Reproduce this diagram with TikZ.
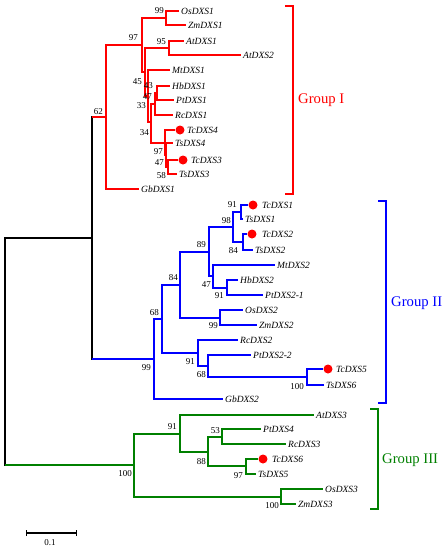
\documentclass[tikz,border=0pt]{standalone}
\usepackage{fontspec}
\setmainfont{Liberation Serif}
\definecolor{tred}{RGB}{255,0,0}
\definecolor{tblue}{RGB}{0,0,255}
\definecolor{tgreen}{RGB}{0,128,0}
\begin{document}
\begin{tikzpicture}[x=1pt,y=-1pt,
  redbr/.style={draw=tred,line width=2pt},
  bluebr/.style={draw=tblue,line width=2pt},
  greenbr/.style={draw=tgreen,line width=2pt},
  blackbr/.style={draw=black,line width=2pt},
  leaf/.style={anchor=west,inner sep=0pt,inner xsep=2.5pt,font=\fontsize{9.5}{11}\selectfont\itshape},
  boot/.style={anchor=east,inner sep=0pt,font=\fontsize{9}{10}\selectfont},
  tcdot/.style={circle,fill=tred,inner sep=0pt,minimum size=9pt},
  grp/.style={anchor=west,inner sep=0pt,font=\fontsize{14.7}{16}\selectfont},
  brk/.style={line width=2pt}]
\useasboundingbox (0,0) rectangle (448,550);

% ---------------- Group I (red) ----------------
\coordinate (n62) at (106,117);
\coordinate (n97) at (142,45);
\coordinate (n99a) at (166,18);
\coordinate (nX) at (145,72);
\coordinate (n95) at (169,48);
\coordinate (nY) at (148,96);
\coordinate (nZ) at (151,122);
\coordinate (nF) at (155,104);
\coordinate (nE) at (157,93);
\coordinate (nC) at (165,143);
\coordinate (nB) at (166,155);
\coordinate (nA) at (168,167);

\node[leaf] (OsDXS1) at (178.5,11) {OsDXS1};
\node[leaf] (ZmDXS1) at (185.5,25) {ZmDXS1};
\node[leaf] (AtDXS1) at (183.5,41) {AtDXS1};
\node[leaf] (AtDXS2) at (240.5,55) {AtDXS2};
\node[leaf] (MtDXS1) at (169.5,70) {MtDXS1};
\node[leaf] (HbDXS1) at (169.5,86) {HbDXS1};
\node[leaf] (PtDXS1) at (173.5,100) {PtDXS1};
\node[leaf] (RcDXS1) at (172.5,115) {RcDXS1};
\node[tcdot] (dTcDXS4) at (180,130) {};
\node[leaf] (TcDXS4) at (184.5,130) {TcDXS4};
\node[leaf] (TsDXS4) at (172.5,143) {TsDXS4};
\node[tcdot] (dTcDXS3) at (183,160) {};
\node[leaf] (TcDXS3) at (188.5,160) {TcDXS3};
\node[leaf] (TsDXS3) at (176.5,174) {TsDXS3};
\node[leaf] (GbDXS1) at (138.5,189) {GbDXS1};

\draw[redbr] (n62) |- (n97);
\draw[redbr] (n62) |- (GbDXS1);
\draw[redbr] (n97) |- (n99a);
\draw[redbr] (n97) |- (nX);
\draw[redbr] (n99a) |- (OsDXS1);
\draw[redbr] (n99a) |- (ZmDXS1);
\draw[redbr] (nX) |- (n95);
\draw[redbr] (nX) |- (nY);
\draw[redbr] (n95) |- (AtDXS1);
\draw[redbr] (n95) |- (AtDXS2);
\draw[redbr] (nY) |- (MtDXS1);
\draw[redbr] (nY) |- (nZ);
\draw[redbr] (nZ) |- (nF);
\draw[redbr] (nZ) |- (nC);
\draw[redbr] (nF) |- (nE);
\draw[redbr] (nF) |- (RcDXS1);
\draw[redbr] (nE) |- (HbDXS1);
\draw[redbr] (nE) |- (PtDXS1);
\draw[redbr] (nC) |- (dTcDXS4);
\draw[redbr] (nC) |- (nB);
\draw[redbr] (nB) |- (TsDXS4);
\draw[redbr] (nB) |- (nA);
\draw[redbr] (nA) |- (dTcDXS3);
\draw[redbr] (nA) |- (TsDXS3);

\node[boot] (b1) at (164,11) {99};
\node[boot] (b2) at (138,38) {97};
\node[boot] (b3) at (166,42) {95};
\node[boot] (b4) at (142,82) {45};
\node[boot] (b5) at (153,86) {43};
\node[boot] (b6) at (152,97) {47};
\node[boot] (b7) at (146,106) {33};
\node[boot] (b8) at (103,112) {62};
\node[boot] (b9) at (149,133) {34};
\node[boot] (b10) at (163,152) {97};
\node[boot] (b11) at (164,163) {47};
\node[boot] (b12) at (166,176) {58};

% ---------------- Group II (blue) ----------------
\coordinate (nG2) at (154,359);
\coordinate (n68a) at (162,319);
\coordinate (n84b) at (180,285);
\coordinate (n89) at (209,252);
\coordinate (n98) at (233,227);
\coordinate (n91a) at (241,212);
\coordinate (n84a) at (243,242);
\coordinate (n47c) at (213,276);
\coordinate (n91c) at (227,288);
\coordinate (n99c) at (220,318);
\coordinate (n91b) at (198,353);
\coordinate (n68b) at (208,366);
\coordinate (n100c) at (307,377);

\node[tcdot] (dTcDXS1) at (253,205) {};
\node[leaf] (TcDXS1) at (259.5,205) {TcDXS1};
\node[leaf] (TsDXS1) at (242.5,219) {TsDXS1};
\node[tcdot] (dTcDXS2) at (252,234) {};
\node[leaf] (TcDXS2) at (259.5,234) {TcDXS2};
\node[leaf] (TsDXS2) at (252.5,250) {TsDXS2};
\node[leaf] (MtDXS2) at (274.5,265) {MtDXS2};
\node[leaf] (HbDXS2) at (237.5,280) {HbDXS2};
\node[leaf] (PtDXS21) at (262.5,295) {PtDXS2-1};
\node[leaf] (OsDXS2) at (242.5,310) {OsDXS2};
\node[leaf] (ZmDXS2) at (256.5,325) {ZmDXS2};
\node[leaf] (RcDXS2) at (237.5,340) {RcDXS2};
\node[leaf] (PtDXS22) at (250.5,355) {PtDXS2-2};
\node[tcdot] (dTcDXS5) at (328,369) {};
\node[leaf] (TcDXS5) at (333.5,369) {TcDXS5};
\node[leaf] (TsDXS6) at (323.5,385) {TsDXS6};
\node[leaf] (GbDXS2) at (222.5,399) {GbDXS2};

\draw[bluebr] (nG2) |- (n68a);
\draw[bluebr] (nG2) |- (GbDXS2);
\draw[bluebr] (n68a) |- (n84b);
\draw[bluebr] (n68a) |- (n91b);
\draw[bluebr] (n84b) |- (n89);
\draw[bluebr] (n84b) |- (n99c);
\draw[bluebr] (n89) |- (n98);
\draw[bluebr] (n89) |- (n47c);
\draw[bluebr] (n98) |- (n91a);
\draw[bluebr] (n98) |- (n84a);
\draw[bluebr] (n91a) |- (dTcDXS1);
\draw[bluebr] (n91a) |- (TsDXS1);
\draw[bluebr] (n84a) |- (dTcDXS2);
\draw[bluebr] (n84a) |- (TsDXS2);
\draw[bluebr] (n47c) |- (MtDXS2);
\draw[bluebr] (n47c) |- (n91c);
\draw[bluebr] (n91c) |- (HbDXS2);
\draw[bluebr] (n91c) |- (PtDXS21);
\draw[bluebr] (n99c) |- (OsDXS2);
\draw[bluebr] (n99c) |- (ZmDXS2);
\draw[bluebr] (n91b) |- (RcDXS2);
\draw[bluebr] (n91b) |- (n68b);
\draw[bluebr] (n68b) |- (PtDXS22);
\draw[bluebr] (n68b) |- (n100c);
\draw[bluebr] (n100c) |- (dTcDXS5);
\draw[bluebr] (n100c) |- (TsDXS6);

\node[boot] (b13) at (237,205) {91};
\node[boot] (b14) at (231,221) {98};
\node[boot] (b15) at (238,251) {84};
\node[boot] (b16) at (206,245) {89};
\node[boot] (b17) at (178,278) {84};
\node[boot] (b18) at (211,285) {47};
\node[boot] (b19) at (224,296) {91};
\node[boot] (b20) at (159,313) {68};
\node[boot] (b21) at (218,326) {99};
\node[boot] (b22) at (195,362) {91};
\node[boot] (b23) at (206,375) {68};
\node[boot] (b24) at (151,368) {99};
\node[boot] (b25) at (304,387) {100};

% ---------------- Group III (green) ----------------
\coordinate (gRoot) at (134,465);
\coordinate (gNA) at (180,434);
\coordinate (gNB) at (208,452);
\coordinate (gNC) at (222,437);
\coordinate (gND) at (246,466);
\coordinate (gNE) at (281,497);

\node[leaf] (AtDXS3) at (313.5,415) {AtDXS3};
\node[leaf] (PtDXS4) at (260.5,429) {PtDXS4};
\node[leaf] (RcDXS3) at (285.5,444) {RcDXS3};
\node[tcdot] (dTcDXS6) at (263,459) {};
\node[leaf] (TcDXS6) at (269.5,459) {TcDXS6};
\node[leaf] (TsDXS5) at (255.5,474) {TsDXS5};
\node[leaf] (OsDXS3) at (322.5,489) {OsDXS3};
\node[leaf] (ZmDXS3) at (295.5,504) {ZmDXS3};

\draw[greenbr] (gRoot) |- (gNA);
\draw[greenbr] (gRoot) |- (gNE);
\draw[greenbr] (gNA) |- (AtDXS3);
\draw[greenbr] (gNA) |- (gNB);
\draw[greenbr] (gNB) |- (gNC);
\draw[greenbr] (gNB) |- (gND);
\draw[greenbr] (gNC) |- (PtDXS4);
\draw[greenbr] (gNC) |- (RcDXS3);
\draw[greenbr] (gND) |- (dTcDXS6);
\draw[greenbr] (gND) |- (TsDXS5);
\draw[greenbr] (gNE) |- (OsDXS3);
\draw[greenbr] (gNE) |- (ZmDXS3);

\node[boot] (b26) at (177,427) {91};
\node[boot] (b27) at (220,431) {53};
\node[boot] (b28) at (206,462) {88};
\node[boot] (b29) at (243,476) {97};
\node[boot] (b30) at (132,474) {100};
\node[boot] (b31) at (279,506) {100};

% ---------------- backbone (black) ----------------
\coordinate (r) at (5,352);
\coordinate (n92) at (92,238);
\coordinate (rb) at (5,465);
\coordinate (n92t) at (92,117);
\coordinate (n92b) at (92,359);
\draw[blackbr,line cap=rect] (r) |- (n92);
\draw[blackbr,line cap=rect] (r) -- (rb);
\draw[greenbr] (rb) -- (gRoot);
\draw[blackbr,line cap=rect] (n92t) -- (n92b);
\draw[redbr] (n92t) -- (n62);
\draw[bluebr] (n92b) -- (nG2);

% ---------------- group brackets ----------------
\coordinate (k1a) at (285,6);
\coordinate (k1b) at (293,6);
\coordinate (k1c) at (293,194);
\coordinate (k1d) at (285,194);
\draw[brk,draw=tred] (k1a) -- (k1b) -- (k1c) -- (k1d);
\node[grp,text=tred] (g1) at (298,100) {Group I};

\coordinate (k2a) at (378,201);
\coordinate (k2b) at (386,201);
\coordinate (k2c) at (386,403);
\coordinate (k2d) at (378,403);
\draw[brk,draw=tblue] (k2a) -- (k2b) -- (k2c) -- (k2d);
\node[grp,text=tblue] (g2) at (391,303) {Group II};

\coordinate (k3a) at (370,409);
\coordinate (k3b) at (378,409);
\coordinate (k3c) at (378,509);
\coordinate (k3d) at (370,509);
\draw[brk,draw=tgreen] (k3a) -- (k3b) -- (k3c) -- (k3d);
\node[grp,text=tgreen] (g3) at (382,460) {Group III};

% ---------------- scale bar ----------------
\coordinate (s1) at (26,533);
\coordinate (s2) at (76,533);
\draw[line width=1.5pt] (s1) -- (s2);
\draw[line width=1pt] ([yshift=-3pt]s1) -- ([yshift=3pt]s1);
\draw[line width=1pt] ([yshift=-3pt]s2) -- ([yshift=3pt]s2);
\node[inner sep=0pt,font=\fontsize{9}{10}\selectfont] (sl) at (50,543) {0.1};
\end{tikzpicture}
\end{document}
